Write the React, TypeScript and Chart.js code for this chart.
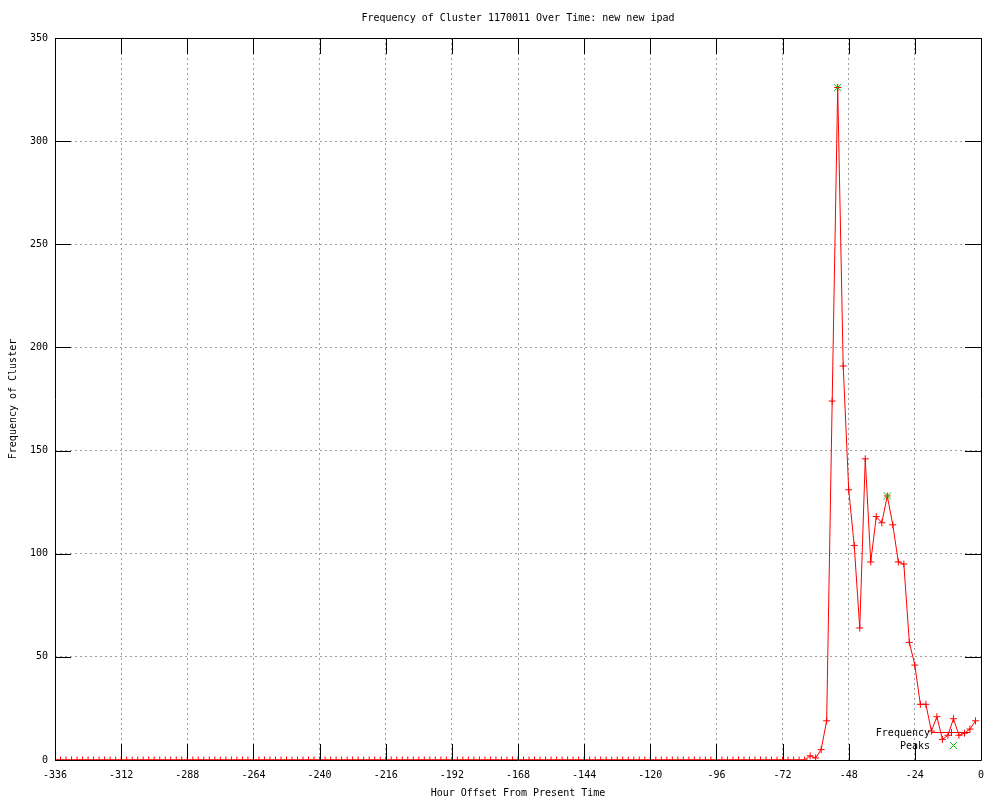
import React, { useEffect, useRef } from "react";
import { Chart, registerables } from "chart.js";

Chart.register(...registerables);

const hours: number[] = [
  -336, -334, -332, -330, -328, -326, -324, -322, -320, -318, -316, -314,
  -312, -310, -308, -306, -304, -302, -300, -298, -296, -294, -292, -290,
  -288, -286, -284, -282, -280, -278, -276, -274, -272, -270, -268, -266,
  -264, -262, -260, -258, -256, -254, -252, -250, -248, -246, -244, -242,
  -240, -238, -236, -234, -232, -230, -228, -226, -224, -222, -220, -218,
  -216, -214, -212, -210, -208, -206, -204, -202, -200, -198, -196, -194,
  -192, -190, -188, -186, -184, -182, -180, -178, -176, -174, -172, -170,
  -168, -166, -164, -162, -160, -158, -156, -154, -152, -150, -148, -146,
  -144, -142, -140, -138, -136, -134, -132, -130, -128, -126, -124, -122,
  -120, -118, -116, -114, -112, -110, -108, -106, -104, -102, -100, -98,
  -96, -94, -92, -90, -88, -86, -84, -82, -80, -78, -76, -74,
  -72, -70, -68, -66, -64, -62, -60, -58, -56, -54, -52, -50,
  -48, -46, -44, -42, -40, -38, -36, -34, -32, -30, -28, -26,
  -24, -22, -20, -18, -16, -14, -12, -10, -8, -6, -4, -2,
];

const frequency: number[] = [
  0, 0, 0, 0, 0, 0, 0, 0, 0, 0, 0, 0,
  0, 0, 0, 0, 0, 0, 0, 0, 0, 0, 0, 0,
  0, 0, 0, 0, 0, 0, 0, 0, 0, 0, 0, 0,
  0, 0, 0, 0, 0, 0, 0, 0, 0, 0, 0, 0,
  0, 0, 0, 0, 0, 0, 0, 0, 0, 0, 0, 0,
  0, 0, 0, 0, 0, 0, 0, 0, 0, 0, 0, 0,
  0, 0, 0, 0, 0, 0, 0, 0, 0, 0, 0, 0,
  0, 0, 0, 0, 0, 0, 0, 0, 0, 0, 0, 0,
  0, 0, 0, 0, 0, 0, 0, 0, 0, 0, 0, 0,
  0, 0, 0, 0, 0, 0, 0, 0, 0, 0, 0, 0,
  0, 0, 0, 0, 0, 0, 0, 0, 0, 0, 0, 0,
  0, 0, 0, 0, 0, 2, 1, 5, 19, 174, 326, 191,
  131, 104, 64, 146, 96, 118, 115, 128, 114, 96, 95, 57,
  46, 27, 27, 14, 21, 10, 12, 20, 12, 13, 15, 19,
];

const peakHours: number[] = [-52, -34];
const peakValues: number[] = [326, 128];

const xTicks: number[] = [-336, -312, -288, -264, -240, -216, -192, -168, -144, -120, -96, -72, -48, -24, 0];
const yTicks: number[] = [0, 50, 100, 150, 200, 250, 300, 350];

const TITLE = "Frequency of Cluster 1170011 Over Time: new new ipad";
const X_LABEL = "Hour Offset From Present Time";
const Y_LABEL = "Frequency of Cluster";
const SERIES_NAMES = ["Frequency", "Peaks"];

const FONT = "'DejaVu Sans Mono', 'Liberation Mono', monospace";
const RED = "#ff0000";
const GREEN = "#00c000";

const framePlugin = {
  id: "gnuplotFrame",
  afterDraw(chart: any) {
    const { ctx, chartArea } = chart;
    const { left, right, top, bottom } = chartArea;
    const xs = chart.scales.x;
    const ys = chart.scales.y;
    ctx.save();
    ctx.strokeStyle = "#000";
    ctx.lineWidth = 1;
    ctx.beginPath();
    ctx.rect(Math.round(left) + 0.5, Math.round(top) + 0.5, Math.round(right - left), Math.round(bottom - top));
    ctx.stroke();
    const tl = 16;
    ctx.beginPath();
    for (const v of xTicks) {
      const px = Math.round(xs.getPixelForValue(v)) + 0.5;
      ctx.moveTo(px, bottom);
      ctx.lineTo(px, bottom - tl);
      ctx.moveTo(px, top);
      ctx.lineTo(px, top + tl);
    }
    for (const v of yTicks) {
      const py = Math.round(ys.getPixelForValue(v)) + 0.5;
      ctx.moveTo(left, py);
      ctx.lineTo(left + tl, py);
      ctx.moveTo(right, py);
      ctx.lineTo(right - tl, py);
    }
    ctx.stroke();

    // titles
    ctx.fillStyle = "#000";
    ctx.font = `10px ${FONT}`;
    ctx.textAlign = "center";
    ctx.textBaseline = "middle";
    const cx = (left + right) / 2;
    ctx.fillText(TITLE, cx, 18);
    ctx.fillText(X_LABEL, cx, 793);
    ctx.save();
    ctx.translate(13, (top + bottom) / 2);
    ctx.rotate(-Math.PI / 2);
    ctx.fillText(Y_LABEL, 0, 0);
    ctx.restore();

    // legend
    ctx.textAlign = "right";
    ctx.fillText(SERIES_NAMES[0], 930, 733);
    ctx.fillText(SERIES_NAMES[1], 930, 746);
    ctx.strokeStyle = RED;
    ctx.beginPath();
    ctx.moveTo(932, 732.5);
    ctx.lineTo(970, 732.5);
    ctx.moveTo(951.5, 729);
    ctx.lineTo(951.5, 736);
    ctx.stroke();
    ctx.strokeStyle = GREEN;
    ctx.beginPath();
    ctx.moveTo(950, 742);
    ctx.lineTo(957, 749);
    ctx.moveTo(957, 742);
    ctx.lineTo(950, 749);
    ctx.stroke();
    ctx.restore();
  },
};

export default function App() {
  const ref = useRef<HTMLCanvasElement | null>(null);
  useEffect(() => {
    if (!ref.current) return;
    const chart = new Chart(ref.current, {
      type: "scatter",
      data: {
        datasets: [
          {
            label: SERIES_NAMES[0],
            data: hours.map((h, i) => ({ x: h, y: frequency[i] })),
            showLine: true,
            borderColor: RED,
            backgroundColor: RED,
            borderWidth: 1,
            pointStyle: "cross",
            pointRadius: 3.5,
            pointBorderWidth: 1,
            pointBorderColor: RED,
            tension: 0,
            order: 2,
          },
          {
            label: SERIES_NAMES[1],
            data: peakHours.map((h, i) => ({ x: h, y: peakValues[i] })),
            showLine: false,
            borderColor: GREEN,
            backgroundColor: GREEN,
            pointStyle: "crossRot",
            pointRadius: 5,
            pointBorderWidth: 1,
            pointBorderColor: GREEN,
            order: 1,
          },
        ],
      },
      options: {
        animation: false,
        responsive: false,
        events: [],
        layout: { padding: { left: 0, right: 19, top: 38, bottom: 0 } },
        plugins: {
          legend: { display: false },
          title: { display: false },
          tooltip: { enabled: false },
        },
        scales: {
          x: {
            type: "linear",
            min: -336,
            max: 0,
            afterFit: (s: any) => {
              s.height = 40;
            },
            afterBuildTicks: (s: any) => {
              s.ticks = xTicks.map((v) => ({ value: v }));
            },
            ticks: {
              color: "#000",
              font: { family: FONT, size: 10 },
              padding: 9,
              maxRotation: 0,
              autoSkip: false,
            },
            grid: { color: "#a0a0a0", drawTicks: false, lineWidth: 1 },
            border: { display: false, dash: [2, 3] },
          },
          y: {
            type: "linear",
            min: 0,
            max: 350,
            afterFit: (s: any) => {
              s.width = 55;
            },
            afterBuildTicks: (s: any) => {
              s.ticks = yTicks.map((v) => ({ value: v }));
            },
            ticks: {
              color: "#000",
              font: { family: FONT, size: 10 },
              padding: 7,
              autoSkip: false,
            },
            grid: { color: "#a0a0a0", drawTicks: false, lineWidth: 1 },
            border: { display: false, dash: [2, 3] },
          },
        },
      },
      plugins: [framePlugin],
    });
    return () => chart.destroy();
  }, []);
  return (
    <div style={{ position: "absolute", left: 0, top: 0, width: 1000, height: 800, background: "#fff" }}>
      <canvas ref={ref} width={1000} height={800} style={{ width: 1000, height: 800 }} />
    </div>
  );
}
